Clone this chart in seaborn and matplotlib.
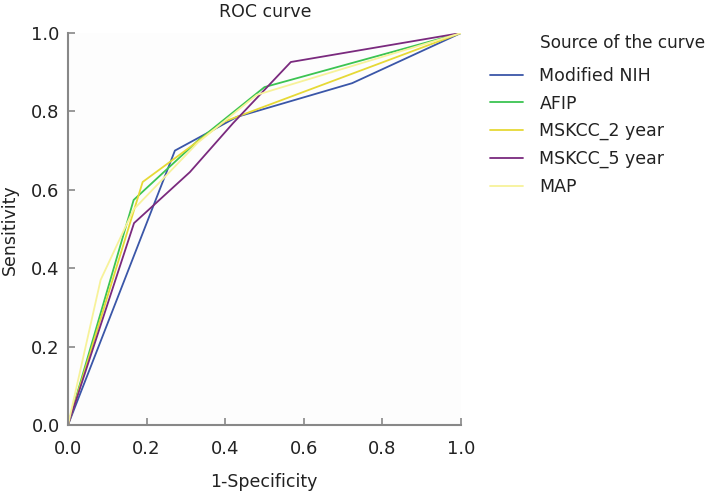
import numpy as np
import pandas as pd
import matplotlib
matplotlib.use("Agg")
import matplotlib.pyplot as plt
import seaborn as sns
from matplotlib.lines import Line2D

sources = ["Modified NIH", "AFIP", "MSKCC_2 year", "MSKCC_5 year", "MAP"]
nih_x = [0.0, 0.272, 0.43, 0.723, 1.0]
nih_y = [0.0, 0.70, 0.786, 0.872, 1.0]
afip_x = [0.0, 0.167, 0.33, 0.50, 1.0]
afip_y = [0.0, 0.574, 0.725, 0.862, 1.0]
msk2_x = [0.0, 0.19, 0.40, 1.0]
msk2_y = [0.0, 0.62, 0.775, 1.0]
msk5_x = [0.0, 0.168, 0.31, 0.42, 0.567, 1.0]
msk5_y = [0.0, 0.515, 0.645, 0.77, 0.926, 1.0]
map_x = [0.0, 0.083, 0.167, 0.33, 0.48, 1.0]
map_y = [0.0, 0.37, 0.55, 0.72, 0.842, 1.0]
colors = ["#3a56a8", "#3cc452", "#e6d936", "#7a2a7e", "#f7f29a"]

xs = [nih_x, afip_x, msk2_x, msk5_x, map_x]
ys = [nih_y, afip_y, msk2_y, msk5_y, map_y]
rows = []
for s, xx, yy in zip(sources, xs, ys):
    for i, (a, b) in enumerate(zip(xx, yy)):
        rows.append({"source": s, "order": i, "fpr": a, "tpr": b})
df = pd.DataFrame(rows)

sns.set_theme(style="white")
plt.rcParams['font.family'] = ['DejaVu Sans']

FS = 12.5
fig = plt.figure(figsize=(7.11, 4.96), dpi=100)
ax = fig.add_axes([68/711, 1-425/496, (461-68)/711, (425-33)/496])
ax.set_facecolor("#fdfdfd")

sns.lineplot(data=df, x="fpr", y="tpr", hue="source", hue_order=sources,
             palette=colors, sort=False, estimator=None, units="source",
             linewidth=1.3, ax=ax, legend=False)

ax.set_xlim(0, 1)
ax.set_ylim(0, 1)
ticks = [0.0, 0.2, 0.4, 0.6, 0.8, 1.0]
ax.set_xticks(ticks)
ax.set_yticks(ticks)
ax.set_xticklabels([f"{t:.1f}" for t in ticks], fontsize=13, color="#222222")
ax.set_yticklabels([f"{t:.1f}" for t in ticks], fontsize=13, color="#222222")
ax.tick_params(axis="both", direction="in", length=5, width=1.2, color="#888888",
               bottom=True, left=True)
ax.tick_params(axis="x", pad=11)
ax.tick_params(axis="y", pad=6)
for side in ["top", "right"]:
    ax.spines[side].set_visible(False)
for side in ["left", "bottom"]:
    ax.spines[side].set_color("#888888")
    ax.spines[side].set_linewidth(1.5)

ax.set_xlabel("")
ax.set_ylabel("")
fig.text(264/711, 1-482/496, "1-Specificity", fontsize=FS, color="#222222",
         ha="center", va="center")
fig.text(10/711, 1-230/496, "Sensitivity", fontsize=FS, color="#222222",
         ha="center", va="center", rotation=90)
fig.text(265/711, 1-12/496, "ROC curve", fontsize=FS, color="#222222",
         ha="center", va="center")

handles = [Line2D([], [], color=c, lw=1.3) for c in colors]
fig.text(540/711, 1-43/496, "Source of the curve", fontsize=12.2,
         color="#222222", ha="left", va="center")
leg = fig.legend(handles, sources,
                 loc="upper left", bbox_to_anchor=(490/711, 1-67/496),
                 frameon=False, fontsize=FS,
                 handlelength=1.9, handletextpad=0.95, labelspacing=0.55,
                 borderpad=0, borderaxespad=0)
for t in leg.get_texts():
    t.set_color("#222222")

fig.savefig("out.png", dpi=100)
